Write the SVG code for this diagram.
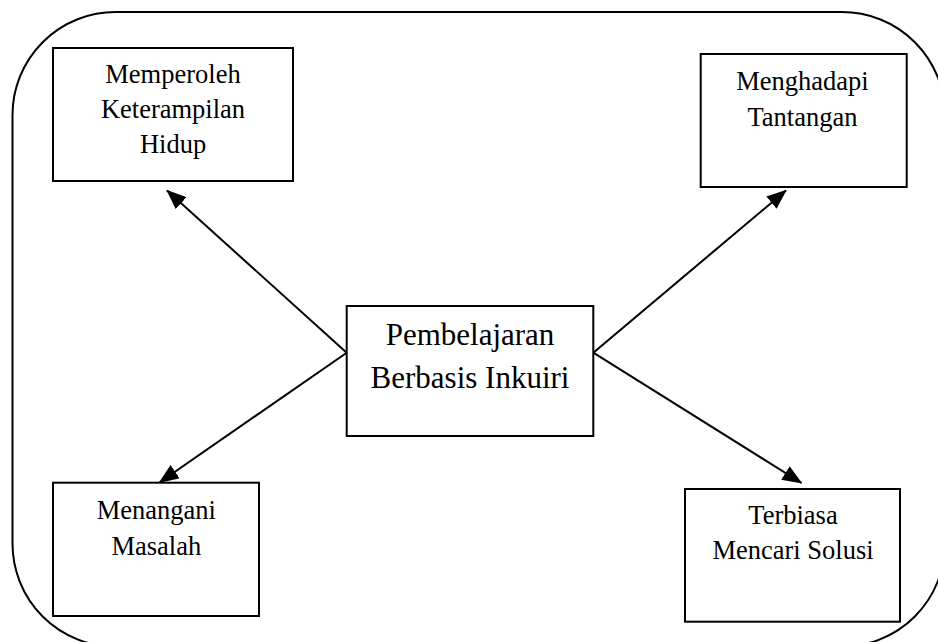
<svg xmlns="http://www.w3.org/2000/svg" width="938" height="642" viewBox="0 0 938 642">
<style>
.box{fill:#fff;stroke:#000;stroke-width:2}
.t{font-family:"Liberation Serif","Times New Roman",serif;font-size:26.5px;fill:#000;text-anchor:middle}
.tc{font-family:"Liberation Serif","Times New Roman",serif;font-size:31px;fill:#000;text-anchor:middle}
.c{stroke:#000;stroke-width:2;fill:none;marker-end:url(#ah)}
</style>
<defs>
<marker id="ah" markerUnits="userSpaceOnUse" markerWidth="20" markerHeight="16" viewBox="0 0 20 16" refX="19" refY="8" orient="auto">
<path d="M0,0 L20,8 L0,16 Z" fill="#000"/>
</marker>
</defs>
<rect x="12.5" y="12" width="932.5" height="634.6" rx="103" ry="103" fill="#fff" stroke="#000" stroke-width="2"/>
<g id="connectors">
<line class="c" x1="346.7" y1="352.7" x2="167" y2="190.5"/>
<line class="c" x1="593.3" y1="352.7" x2="786" y2="190.5"/>
<line class="c" x1="346.7" y1="352.7" x2="159.5" y2="482.5"/>
<line class="c" x1="593.3" y1="352.7" x2="801.5" y2="483"/>
</g>
<g id="n1">
<rect class="box" x="53" y="48" width="240" height="133"/>
<text class="t" x="173" y="83">Memperoleh</text>
<text class="t" x="173" y="118">Keterampilan</text>
<text class="t" x="173" y="153">Hidup</text>
</g>
<g id="n2">
<rect class="box" x="700.7" y="54" width="206" height="133"/>
<text class="t" x="802.5" y="90">Menghadapi</text>
<text class="t" x="802.5" y="126">Tantangan</text>
</g>
<g id="center">
<rect class="box" x="346.7" y="306" width="246.6" height="130"/>
<text class="tc" x="470" y="345">Pembelajaran</text>
<text class="tc" x="470" y="388">Berbasis Inkuiri</text>
</g>
<g id="n4">
<rect class="box" x="53" y="482.7" width="206" height="133.3"/>
<text class="t" x="156.3" y="519">Menangani</text>
<text class="t" x="156.3" y="555">Masalah</text>
</g>
<g id="n5">
<rect class="box" x="685" y="489" width="215" height="132.7"/>
<text class="t" x="793" y="524">Terbiasa</text>
<text class="t" x="793" y="559">Mencari Solusi</text>
</g>
</svg>
